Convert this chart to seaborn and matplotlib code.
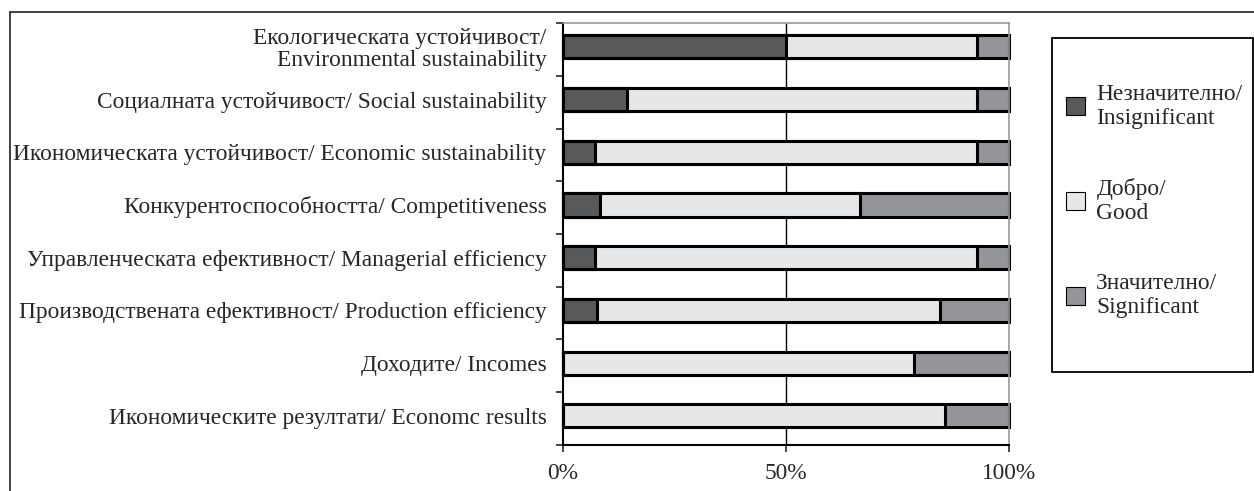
import numpy as np
import pandas as pd
import matplotlib
matplotlib.use("Agg")
import matplotlib.pyplot as plt
from matplotlib.patches import Patch, Rectangle
from matplotlib.lines import Line2D
from matplotlib.ticker import FixedLocator, PercentFormatter
import seaborn as sns

categories = [
    "Екологическата устойчивост/\nEnvironmental sustainability",
    "Социалната устойчивост/ Social sustainability",
    "Икономическата устойчивост/ Economic sustainability",
    "Конкурентоспособността/ Competitiveness",
    "Управленческата ефективност/ Managerial efficiency",
    "Производствената ефективност/ Production efficiency",
    "Доходите/ Incomes",
    "Икономическите резултати/ Economc results",
]
insignificant = [50.0, 14.3, 7.1, 8.3, 7.1, 7.7, 0.0, 0.0]
good = [42.9, 78.6, 85.8, 58.4, 85.8, 76.9, 78.6, 85.7]
significant = [7.1, 7.1, 7.1, 33.3, 7.1, 15.4, 21.4, 14.3]

series_names = ["Незначително/\nInsignificant", "Добро/\nGood", "Значително/\nSignificant"]
colors = ["#58595b", "#e6e7e8", "#939598"]

df = pd.DataFrame({"category": categories,
                   "insignificant": insignificant,
                   "good": good,
                   "significant": significant})
df["cum1"] = df["insignificant"]
df["cum2"] = df["insignificant"] + df["good"]
df["cum3"] = df["cum2"] + df["significant"]

sns.set_style("white")
plt.rcParams["font.family"] = ["Liberation Serif", "DejaVu Serif"]
FS = 16.8

fig = plt.figure(figsize=(12.54, 4.91), dpi=100)
ax = fig.add_axes([0.449, 0.094, 0.3556, 0.859])

# stacked bars: draw cumulative totals from back to front
for col, c in zip(["cum3", "cum2", "cum1"], [colors[2], colors[1], colors[0]]):
    sns.barplot(data=df, x=col, y="category", orient="h", color=c,
                width=0.44, edgecolor="black", linewidth=2.2, ax=ax,
                saturation=1)
for p in ax.patches:
    p.set_clip_on(False)

ax.set_xlim(0, 100)
ax.set_ylim(7.55, -0.45)
ax.set_xlabel("")
ax.set_ylabel("")
ax.axvline(50, color="black", linewidth=1, zorder=0)

ax.xaxis.set_major_locator(FixedLocator([0, 50, 100]))
ax.xaxis.set_major_formatter(PercentFormatter(decimals=0))
ax.tick_params(axis="x", length=5, width=1.2, direction="out", pad=8,
               labelsize=FS, bottom=True)
ax.tick_params(axis="y", which="major", length=0, pad=12, labelsize=FS)
ax.yaxis.set_minor_locator(FixedLocator(np.arange(-0.45, 8, 1)))
ax.tick_params(axis="y", which="minor", length=5, width=1.2, left=True)
ax.set_yticks(range(len(categories)))
ax.set_yticklabels(categories, ha="right", linespacing=1.05)

for side in ["left", "bottom"]:
    ax.spines[side].set_color("black")
    ax.spines[side].set_linewidth(1.5)
for side in ["top", "right"]:
    ax.spines[side].set_color("#999999")
    ax.spines[side].set_linewidth(1.2)

# outer frame (partly cut by image edge)
fig.add_artist(Line2D([10 / 1254, 1], [1 - 12 / 491] * 2, color="#333333",
                      linewidth=1.3, transform=fig.transFigure))
fig.add_artist(Line2D([10 / 1254] * 2, [0, 1 - 12 / 491], color="#333333",
                      linewidth=1.3, transform=fig.transFigure))

# legend box
fig.add_artist(Rectangle((1052 / 1254, 1 - 372 / 491), 201 / 1254, 334 / 491,
                         transform=fig.transFigure, fill=False,
                         edgecolor="black", linewidth=1.3))
handles = [Patch(facecolor=c, edgecolor="black", linewidth=0.8) for c in colors]
fig.legend(handles, series_names, loc="center left",
           bbox_to_anchor=(1045 / 1254, 1 - 201 / 491), frameon=False,
           handlelength=0.8, handleheight=0.8,
           handletextpad=0.5, labelspacing=2.1, prop={"size": FS})

fig.savefig("out.png", dpi=100)
